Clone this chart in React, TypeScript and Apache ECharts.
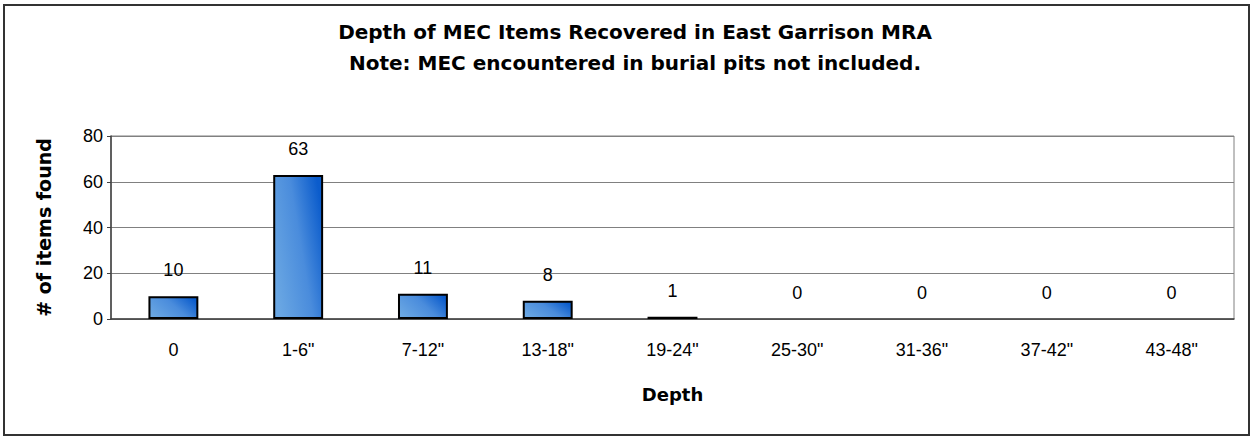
import React, { useEffect, useRef } from "react";
import * as echarts from "echarts";

const categories = ["0", '1-6"', '7-12"', '13-18"', '19-24"', '25-30"', '31-36"', '37-42"', '43-48"'];
const itemsFound = [10, 63, 11, 8, 1, 0, 0, 0, 0];
const yTicks = { min: 0, max: 80, interval: 20 };
const titleText = "Depth of MEC Items Recovered in East Garrison MRA";
const subtitleText = "Note: MEC encountered in burial pits not included.";
const xName = "Depth";
const yName = "# of items found";

const FONT = "'Liberation Sans', Arial, sans-serif";
const WIDE = "'DejaVu Sans', 'Liberation Sans', sans-serif";

export default function App() {
  const ref = useRef<HTMLDivElement>(null);
  useEffect(() => {
    if (!ref.current) return;
    const chart = echarts.init(ref.current, null, { renderer: "svg" });
    chart.setOption({
      animation: false,
      backgroundColor: "#ffffff",
      textStyle: { fontFamily: FONT },
      title: [
        {
          text: titleText,
          left: 630,
          top: 17,
          textAlign: "center",
          textStyle: { fontFamily: WIDE, fontSize: 20, fontWeight: "bold", color: "#000" },
        },
        {
          text: subtitleText,
          left: 630,
          top: 48,
          textAlign: "center",
          textStyle: { fontFamily: WIDE, fontSize: 20, fontWeight: "bold", color: "#000" },
        },
      ],
      graphic: [
        {
          type: "rect",
          shape: { x: 4, y: 5, width: 1245, height: 430 },
          style: { fill: "none", stroke: "#333333", lineWidth: 2 },
          silent: true,
        },
      ],
      grid: {
        left: 111,
        right: 19,
        top: 136,
        bottom: 118,
        show: true,
        borderColor: "#808080",
        borderWidth: 1,
        backgroundColor: "transparent",
      },
      xAxis: {
        type: "category",
        data: categories,
        name: xName,
        nameLocation: "middle",
        nameGap: 66,
        nameTextStyle: { fontFamily: WIDE, fontSize: 18, fontWeight: "bold", color: "#000" },
        axisLine: { show: true, lineStyle: { color: "#404040", width: 1.5 } },
        axisTick: { show: false },
        axisLabel: { fontFamily: FONT, fontSize: 18, color: "#000", margin: 22 },
        splitLine: { show: false },
      },
      yAxis: {
        type: "value",
        min: yTicks.min,
        max: yTicks.max,
        interval: yTicks.interval,
        name: yName,
        nameLocation: "middle",
        nameGap: 58,
        nameTextStyle: { fontFamily: WIDE, fontSize: 19, fontWeight: "bold", color: "#000" },
        axisLine: { show: true, lineStyle: { color: "#404040", width: 1.5 } },
        axisTick: { show: true, length: 4, lineStyle: { color: "#404040" } },
        axisLabel: { fontFamily: FONT, fontSize: 18, color: "#000", margin: 8 },
        splitLine: { show: true, lineStyle: { color: "#808080", width: 1 } },
      },
      series: [
        {
          type: "bar",
          data: itemsFound.map((v) => ({
            value: v,
            itemStyle: v === 0 ? { borderWidth: 0 } : undefined,
          })),
          barWidth: "40%",
          itemStyle: {
            color: new echarts.graphic.LinearGradient(0, 0.75, 1, 0.25, [
              { offset: 0, color: "#6aa7e3" },
              { offset: 0.55, color: "#4a8cdc" },
              { offset: 1, color: "#0b5ccc" },
            ]),
            borderColor: "#000",
            borderWidth: 2,
          },
          label: {
            show: true,
            position: "top",
            distance: 17,
            fontFamily: FONT,
            fontSize: 18,
            color: "#000",
          },
        },
      ],
    });
    return () => chart.dispose();
  }, []);
  return (
    <div
      ref={ref}
      style={{ position: "absolute", left: 0, top: 0, width: 1253, height: 437 }}
    />
  );
}
